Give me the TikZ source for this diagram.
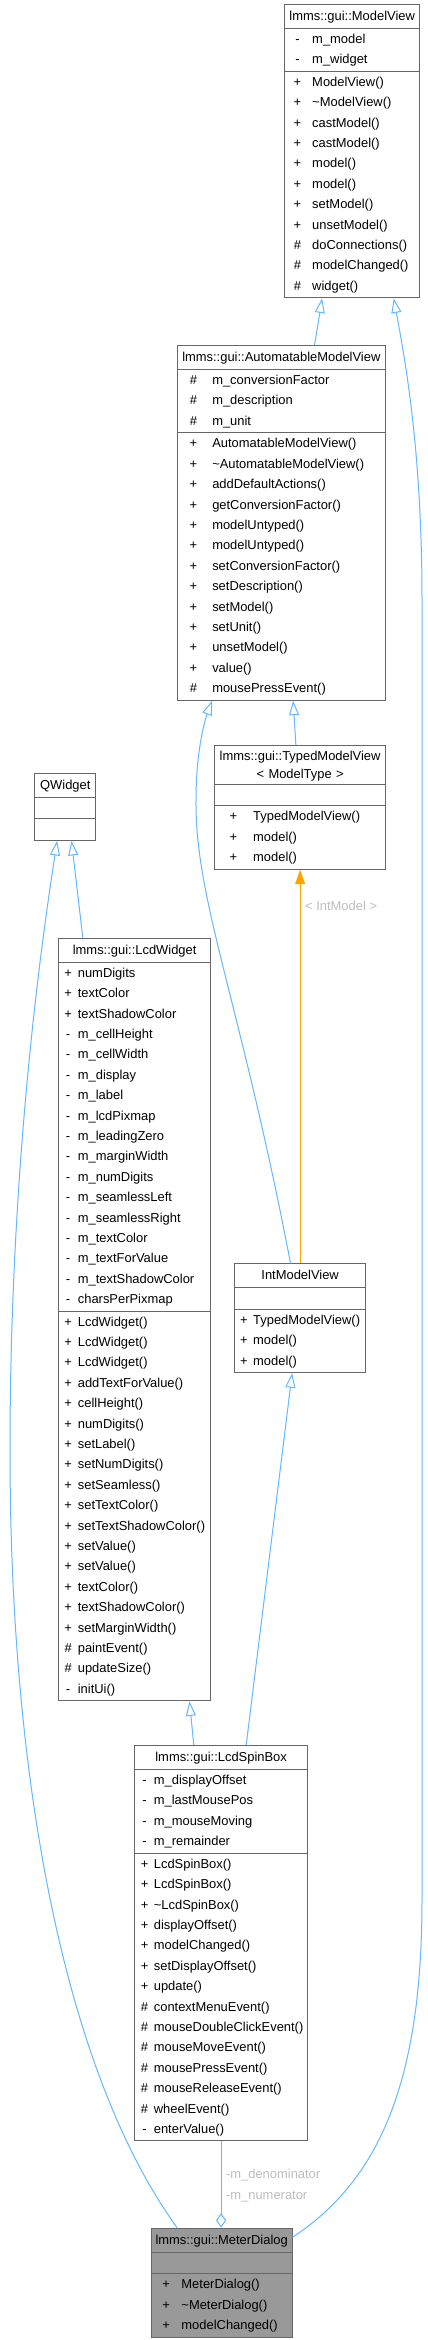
\documentclass[tikz,border=0pt]{standalone}
\usepackage{fontspec}
\setmainfont{Liberation Sans}
\usetikzlibrary{shapes.multipart, arrows.meta, calc}
\definecolor{EdgeBlue}{RGB}{99, 184, 255}
\definecolor{EdgeOrange}{RGB}{255, 165, 0}
\definecolor{BorderGray}{RGB}{102, 102, 102}
\definecolor{FillFocus}{RGB}{153, 153, 153}
\definecolor{LabelGray}{RGB}{190, 190, 190}
% lignes des classes
\newcommand{\clsstrut}{\rule[-4.8pt]{0pt}{15.3pt}}
\newcommand{\clsrow}[2]{\makebox[\clsnamex][l]{\hspace*{\clssymx}\makebox[0pt]{#1}}#2\clsstrut}
\newcommand{\clstitle}[1]{\makebox[\hsize]{#1}\rule[-5.3pt]{0pt}{16.45pt}}
\newcommand{\clstitlel}[1]{\makebox[\hsize]{#1}\rule[-3.6pt]{0pt}{13.75pt}}
\newcommand{\clsempty}{\rule{0pt}{14.6pt}}

\begin{document}
\begin{tikzpicture}[
        x=0.75pt, y=-0.75pt,
        % Styles globaux
        base/.style={font=\fontsize{9.7pt}{15.3pt}\selectfont},
        sym col/.code 2 args={\def\clssymx{#1}\def\clsnamex{#2}},
        % Style "Classe"
        box_class/.style n args={3}{base, rectangle split, rectangle split parts=3, draw=BorderGray, fill=white, line width=0.75pt, text width=#1, inner xsep=0pt, inner ysep=0.4pt, align=left, anchor=north west, sym col={#2}{#3}},
        box_focus/.style={fill=FillFocus},
        % Style des fleches
        inherit/.style={-{Triangle[length=11pt, width=7.5pt, fill=white]}, EdgeBlue, line width=0.75pt},
        templ/.style={-{Triangle[length=11pt, width=7.5pt]}, EdgeOrange, line width=0.9pt},
        aggreg/.style={-{Diamond[length=11pt, width=7.5pt, fill=white]}, EdgeBlue, line width=0.75pt},
        edge_label/.style={base, text=LabelGray, align=left, anchor=west}
    ]
    \path[use as bounding box, fill=white] (0,0) rectangle (428,2340);

    % --- HAUT ---
    \node[box_class={101.5pt}{9.75pt}{20.8pt}] (modelview) at (284,4) {\clstitle{lmms::gui::ModelView}
        \nodepart{two}\clsrow{-}{m\_model}\\\clsrow{-}{m\_widget}
        \nodepart{three}\clsrow{+}{ModelView()}\\\clsrow{+}{\textasciitilde ModelView()}\\\clsrow{+}{castModel()}\\\clsrow{+}{castModel()}\\\clsrow{+}{model()}\\\clsrow{+}{model()}\\\clsrow{+}{setModel()}\\\clsrow{+}{unsetModel()}\\\clsrow{\#}{doConnections()}\\\clsrow{\#}{modelChanged()}\\\clsrow{\#}{widget()}};
    \node[box_class={156.2pt}{12.2pt}{26.3pt}] (automodel) at (176.7,345) {\clstitle{lmms::gui::AutomatableModelView}
        \nodepart{two}\clsrow{\#}{m\_conversionFactor}\\\clsrow{\#}{m\_description}\\\clsrow{\#}{m\_unit}
        \nodepart{three}\clsrow{+}{AutomatableModelView()}\\\clsrow{+}{\textasciitilde AutomatableModelView()}\\\clsrow{+}{addDefaultActions()}\\\clsrow{+}{getConversionFactor()}\\\clsrow{+}{modelUntyped()}\\\clsrow{+}{modelUntyped()}\\\clsrow{+}{setConversionFactor()}\\\clsrow{+}{setDescription()}\\\clsrow{+}{setModel()}\\\clsrow{+}{setUnit()}\\\clsrow{+}{unsetModel()}\\\clsrow{+}{value()}\\\clsrow{\#}{mousePressEvent()}};
    \node[box_class={128pt}{14pt}{28.8pt}] (typedmodel) at (214.3,745) {\clstitlel{lmms::gui::TypedModelView}\\[-1.55pt]\clstitlel{< ModelType >}
        \nodepart{two}\clsempty
        \nodepart{three}\clsrow{+}{TypedModelView()}\\\clsrow{+}{model()}\\\clsrow{+}{model()}};

    % --- MILIEU ---
    \node[box_class={45.75pt}{6pt}{12pt}] (qwidget) at (34.3,772.7) {\clstitle{QWidget}
        \nodepart{two}\clsempty
        \nodepart{three}\clsempty};
    \node[box_class={113.8pt}{7pt}{14.3pt}] (lcdwidget) at (58.3,937.7) {\clstitle{lmms::gui::LcdWidget}
        \nodepart{two}\clsrow{+}{numDigits}\\\clsrow{+}{textColor}\\\clsrow{+}{textShadowColor}\\\clsrow{-}{m\_cellHeight}\\\clsrow{-}{m\_cellWidth}\\\clsrow{-}{m\_display}\\\clsrow{-}{m\_label}\\\clsrow{-}{m\_lcdPixmap}\\\clsrow{-}{m\_leadingZero}\\\clsrow{-}{m\_marginWidth}\\\clsrow{-}{m\_numDigits}\\\clsrow{-}{m\_seamlessLeft}\\\clsrow{-}{m\_seamlessRight}\\\clsrow{-}{m\_textColor}\\\clsrow{-}{m\_textForValue}\\\clsrow{-}{m\_textShadowColor}\\\clsrow{-}{charsPerPixmap}
        \nodepart{three}\clsrow{+}{LcdWidget()}\\\clsrow{+}{LcdWidget()}\\\clsrow{+}{LcdWidget()}\\\clsrow{+}{addTextForValue()}\\\clsrow{+}{cellHeight()}\\\clsrow{+}{numDigits()}\\\clsrow{+}{setLabel()}\\\clsrow{+}{setNumDigits()}\\\clsrow{+}{setSeamless()}\\\clsrow{+}{setTextColor()}\\\clsrow{+}{setTextShadowColor()}\\\clsrow{+}{setValue()}\\\clsrow{+}{setValue()}\\\clsrow{+}{textColor()}\\\clsrow{+}{textShadowColor()}\\\clsrow{+}{setMarginWidth()}\\\clsrow{\#}{paintEvent()}\\\clsrow{\#}{updateSize()}\\\clsrow{-}{initUi()}};
    \node[box_class={98pt}{6.75pt}{13.8pt}] (intmodel) at (234.3,1263.3) {\clstitle{IntModelView}
        \nodepart{two}\clsempty
        \nodepart{three}\clsrow{+}{TypedModelView()}\\\clsrow{+}{model()}\\\clsrow{+}{model()}};

    % --- BAS ---
    \node[box_class={129.5pt}{7.3pt}{14.3pt}] (spinbox) at (134.3,1745) {\clstitle{lmms::gui::LcdSpinBox}
        \nodepart{two}\clsrow{-}{m\_displayOffset}\\\clsrow{-}{m\_lastMousePos}\\\clsrow{-}{m\_mouseMoving}\\\clsrow{-}{m\_remainder}
        \nodepart{three}\clsrow{+}{LcdSpinBox()}\\\clsrow{+}{LcdSpinBox()}\\\clsrow{+}{\textasciitilde LcdSpinBox()}\\\clsrow{+}{displayOffset()}\\\clsrow{+}{modelChanged()}\\\clsrow{+}{setDisplayOffset()}\\\clsrow{+}{update()}\\\clsrow{\#}{contextMenuEvent()}\\\clsrow{\#}{mouseDoubleClickEvent()}\\\clsrow{\#}{mouseMoveEvent()}\\\clsrow{\#}{mousePressEvent()}\\\clsrow{\#}{mouseReleaseEvent()}\\\clsrow{\#}{wheelEvent()}\\\clsrow{-}{enterValue()}};
    \node[box_class={105.75pt}{11.25pt}{22.7pt}, box_focus] (meter) at (150.7,2227.7) {\clstitle{lmms::gui::MeterDialog}
        \nodepart{two}\clsempty
        \nodepart{three}\clsrow{+}{MeterDialog()}\\\clsrow{+}{\textasciitilde MeterDialog()}\\\clsrow{+}{modelChanged()}};

    % --- FLECHES ---
    \draw[inherit] ([xshift=24.9pt]automodel.north) -- ([xshift=-22.5pt]modelview.south);
    \draw[inherit] ([xshift=-3.2pt]typedmodel.north) -- ([xshift=8.9pt]automodel.south);
    \draw[inherit] ([xshift=-7.2pt]intmodel.north) .. controls (240,1000) and (195,900) .. (196,800) .. controls (196,750) and (205,720) .. ([xshift=-51.9pt]automodel.south);
    \draw[templ] (intmodel.north) -- (typedmodel.south)
        node[edge_label, pos=0.907] (lbl_int) {< IntModel >};
    \draw[inherit] ([xshift=-38.9pt]lcdwidget.north) -- ([xshift=4.65pt]qwidget.south);
    \draw[inherit] ([xshift=-33.4pt]meter.north) .. controls (70,2080) and (10,1800) .. (10,1450) .. controls (10,1150) and (45,920) .. ([xshift=-6.1pt]qwidget.south);
    \draw[inherit] ([xshift=-20.5pt]spinbox.north) -- ([xshift=41.1pt]lcdwidget.south);
    \draw[inherit] ([xshift=18.8pt]spinbox.north) -- ([xshift=-6pt]intmodel.south);
    \draw[inherit] ([yshift=-7pt]meter.north east) .. controls (380,2180) and (422,2080) .. (422,1900) -- (422,600) .. controls (422,450) and (405,360) .. ([xshift=31.2pt]modelview.south);
    \draw[aggreg] (spinbox.south) -- (spinbox.south |- meter.north)
        node[edge_label, pos=0.51] (lbl_aggr) {-m\_denominator\\-m\_numerator};

\end{tikzpicture}
\end{document}
